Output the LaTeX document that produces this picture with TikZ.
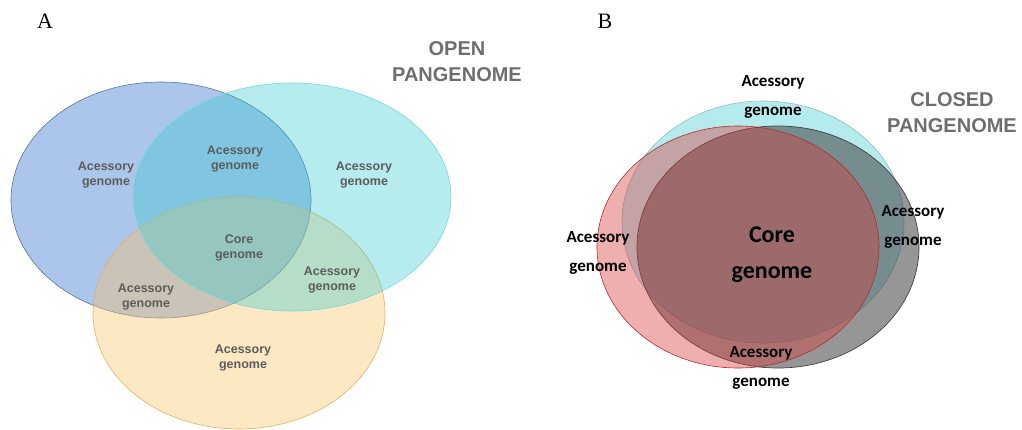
\documentclass[tikz,border=0pt]{standalone}
\usepackage{fontspec}
\setmainfont{Liberation Serif}
\newfontfamily\arialfont{Liberation Sans}
\newfontfamily\calfont{Carlito}
\definecolor{setblue}{HTML}{7EA6E0}
\definecolor{setcyan}{RGB}{56,202,207}
\definecolor{setorange}{RGB}{250,197,108}
\definecolor{closedcyan}{HTML}{B6EBEE}
\definecolor{closedred}{RGB}{217,55,55}
\definecolor{closedgray}{HTML}{404040}
\definecolor{labelgray}{HTML}{5C5C5C}
\definecolor{titlegray}{HTML}{6E6E6E}

\begin{document}
\begin{tikzpicture}[x=1pt, y=-1pt]
\tikzset{openlabel/.style={align=center, text=labelgray, font=\arialfont\bfseries\fontsize{12.5}{15}\selectfont, inner sep=0pt},
closedlabel/.style={align=center, font=\calfont\bfseries\fontsize{17}{29}\selectfont, inner sep=0pt},
titlelabel/.style={align=center, text=titlegray, font=\arialfont\bfseries\fontsize{20}{26}\selectfont, inner sep=0pt},
panellabel/.style={font=\fontsize{22}{24}\selectfont, inner sep=0pt}}
\useasboundingbox (0,0) rectangle (1022,429);
% A: open pangenome
\draw[draw=setblue!70!black, fill=setblue, fill opacity=0.65, line width=0.6pt] (161,200) ellipse [x radius=150pt, y radius=118pt];
\draw[draw=setorange!90!black, fill=setorange, fill opacity=0.4, line width=0.6pt] (239,313) ellipse [x radius=146pt, y radius=116pt];
\draw[draw=setcyan!70!white, fill=setcyan, fill opacity=0.36, line width=0.6pt] (292,197) ellipse [x radius=159pt, y radius=114pt];
\node[panellabel] (pA) at (45,21) {A};
\node[titlelabel] (topen) at (457,62) {OPEN\\PANGENOME};
\node[openlabel] (a1) at (106,175) {Acessory\\genome};
\node[openlabel] (a2) at (235,159) {Acessory\\genome};
\node[openlabel] (a3) at (364,175) {Acessory\\genome};
\node[openlabel] (a4) at (239,248) {Core\\genome};
\node[openlabel] (a5) at (332,280) {Acessory\\genome};
\node[openlabel] (a6) at (146,297) {Acessory\\genome};
\node[openlabel] (a7) at (243,358) {Acessory\\genome};
% B: closed pangenome
\draw[draw=closedcyan!80!black, fill=closedcyan, line width=0.6pt] (763,222) ellipse [x radius=141pt, y radius=121pt];
\draw[draw=closedgray, fill=closedgray, fill opacity=0.55, line width=0.7pt] (778,247) ellipse [x radius=141pt, y radius=121pt];
\draw[draw=closedred!80!black, fill=closedred, fill opacity=0.4, line width=0.6pt] (738,247) ellipse [x radius=141pt, y radius=121pt];
\node[panellabel] (pB) at (605,21) {B};
\node[titlelabel] (tclosed) at (952,113) {CLOSED\\PANGENOME};
\node[closedlabel] (b1) at (773,97) {Acessory\\genome};
\node[closedlabel] (b2) at (913,227) {Acessory\\genome};
\node[closedlabel] (b3) at (598,253) {Acessory\\genome};
\node[closedlabel] (b4) at (761,368) {Acessory\\genome};
\node[closedlabel, font=\calfont\bfseries\fontsize{24}{36}\selectfont] (b5) at (772,255) {Core\\genome};
\end{tikzpicture}
\end{document}
